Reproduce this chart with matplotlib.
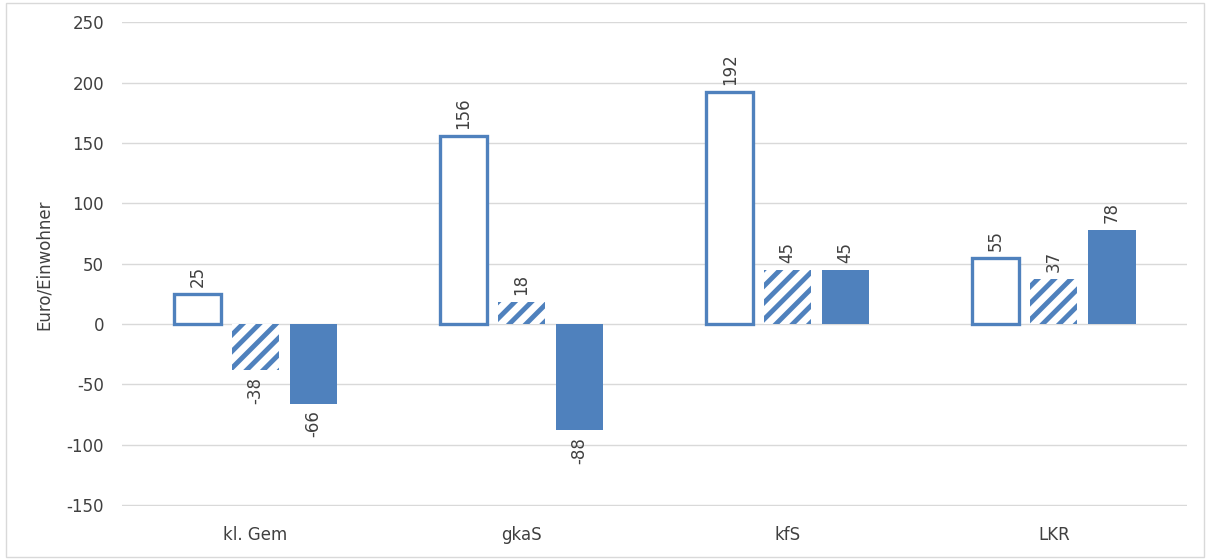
import numpy as np
from matplotlib import pyplot as plt

categories = ["kl. Gem", "gkaS", "kfS", "LKR"]
series_a = [25, 156, 192, 55]
series_b = [-38, 18, 45, 37]
series_c = [-66, -88, 45, 78]

BLUE = "#4F81BD"
TEXT = "#404040"

plt.rcParams['font.family'] = ['DejaVu Sans']
plt.rcParams['hatch.linewidth'] = 3.5
plt.rcParams['axes.unicode_minus'] = False

fig = plt.figure(figsize=(12.1, 5.6), dpi=100)
ax = fig.add_axes([0.101, 0.096, 0.880, 0.864])

x = np.arange(len(categories))
w = 0.177
step = 0.218

bars_a = ax.bar(x - step, series_a, w, facecolor="white", edgecolor=BLUE, linewidth=2.4, zorder=3)
bars_b = ax.bar(x, series_b, w, facecolor="white", edgecolor=BLUE, hatch="//", linewidth=0, zorder=3)
bars_c = ax.bar(x + step, series_c, w, color=BLUE, zorder=3)

for bars, vals in [(bars_a, series_a), (bars_b, series_b), (bars_c, series_c)]:
    for b, v in zip(bars, vals):
        cx = b.get_x() + b.get_width() / 2
        if v >= 0:
            ax.annotate(str(v), (cx, v), xytext=(0, 5), textcoords="offset points",
                        rotation=90, ha="center", va="bottom", fontsize=12, color=TEXT)
        else:
            ax.annotate(str(v), (cx, v), xytext=(0, -5), textcoords="offset points",
                        rotation=90, ha="center", va="top", fontsize=12, color=TEXT)

ax.set_ylim(-151, 250)
ax.set_yticks(np.arange(-150, 251, 50))
ax.set_xlim(-0.5, len(categories) - 0.5)
ax.set_xticks(x)
ax.set_xticklabels(categories)
ax.tick_params(axis="both", length=0, labelsize=12, colors=TEXT)
ax.tick_params(axis="y", pad=13)
ax.tick_params(axis="x", pad=14)
ax.yaxis.grid(True, color="#D9D9D9", linewidth=1, zorder=0)
ax.set_axisbelow(True)
for s in ax.spines.values():
    s.set_visible(False)
ax.set_ylabel("Euro/Einwohner", fontsize=12, color=TEXT, labelpad=10)

# border round the chart area
fig.patches.append(plt.Rectangle((0.005, 0.005), 0.99, 0.99, transform=fig.transFigure,
                                 fill=False, edgecolor="#D9D9D9", linewidth=1))

plt.savefig("out.png", dpi=100)
